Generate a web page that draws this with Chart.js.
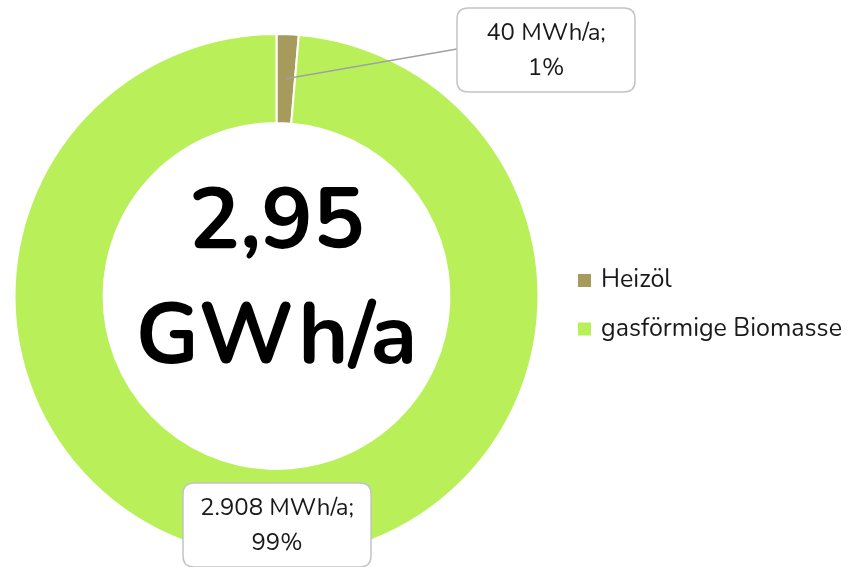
<!DOCTYPE html>
<html>
<head>
<meta charset="utf-8">
<script src="https://cdn.jsdelivr.net/npm/chart.js@4.4.1/dist/chart.umd.min.js"></script>
<style>
	html, body { margin: 0; padding: 0; background: #ffffff; }
	#wrap { position: relative; width: 848px; height: 567px; }
</style>
</head>
<body>
<div id="wrap"><canvas id="energy_doughnut"></canvas></div>
<script>
// data
const categories = ['Heizöl', 'gasförmige Biomasse'];
const valuesMWh = [40, 2908];
const valueLabels = ['40 MWh/a;', '2.908 MWh/a;'];
const percentLabels = ['1%', '99%'];
const centerLines = ['2,95', 'GWh/a'];
const colors = ['#a69a5c', '#b9f05a'];

const fontFamily = "Nunito, Lato, 'Open Sans', sans-serif";

// callout boxes (box centre + size)
const calloutBoxes = [
	{ cx: 546, cy: 50, w: 178, h: 84, line: true },
	{ cx: 277, cy: 525, w: 188, h: 84, line: false }
];

function roundRect(ctx, x, y, w, h, r) {
	ctx.beginPath();
	ctx.moveTo(x + r, y);
	ctx.lineTo(x + w - r, y);
	ctx.quadraticCurveTo(x + w, y, x + w, y + r);
	ctx.lineTo(x + w, y + h - r);
	ctx.quadraticCurveTo(x + w, y + h, x + w - r, y + h);
	ctx.lineTo(x + r, y + h);
	ctx.quadraticCurveTo(x, y + h, x, y + h - r);
	ctx.lineTo(x, y + r);
	ctx.quadraticCurveTo(x, y, x + r, y);
	ctx.closePath();
}

const extrasPlugin = {
	id: 'extras',
	afterDatasetsDraw(chart) {
		const ctx = chart.ctx;
		const meta = chart.getDatasetMeta(0);
		const arc0 = meta.data[0];
		const cx = arc0.x, cy = arc0.y;

		ctx.save();
		// center text
		ctx.fillStyle = '#000000';
		ctx.textAlign = 'center';
		ctx.textBaseline = 'alphabetic';
		ctx.font = 'bold 86px ' + fontFamily;
		ctx.fillText(centerLines[0], cx, cy - 48);
		ctx.fillText(centerLines[1], cx, cy + 67);

		// callouts
		meta.data.forEach((arc, i) => {
			const b = calloutBoxes[i];
			const p = arc.tooltipPosition();
			const top = b.cy - b.h / 2;
			if (b.line) {
				ctx.strokeStyle = '#a0a0a0';
				ctx.lineWidth = 1.4;
				ctx.beginPath();
				ctx.moveTo(p.x, p.y);
				ctx.lineTo(b.cx - b.w / 2, b.cy - 1);
				ctx.stroke();
			}
			roundRect(ctx, b.cx - b.w / 2, top, b.w, b.h, 11);
			ctx.fillStyle = '#ffffff';
			ctx.fill();
			ctx.strokeStyle = '#c4c4c4';
			ctx.lineWidth = 1.5;
			ctx.stroke();
			ctx.fillStyle = '#1a1a1a';
			ctx.font = '24px ' + fontFamily;
			ctx.fillText(valueLabels[i], b.cx, top + 32);
			ctx.fillText(percentLabels[i], b.cx, top + 67);
		});

		// legend
		ctx.textAlign = 'left';
		ctx.font = '25px ' + fontFamily;
		categories.forEach((name, i) => {
			const y = 287 + i * 48.5;
			ctx.fillStyle = colors[i];
			ctx.fillRect(578, y - 13, 13, 13);
			ctx.fillStyle = '#1a1a1a';
			ctx.fillText(name, 601, y);
		});
		ctx.restore();
	}
};

const canvas = document.getElementById('energy_doughnut');
const chart = new Chart(canvas.getContext('2d'), {
	type: 'doughnut',
	data: {
		labels: categories,
		datasets: [{
			data: valuesMWh,
			backgroundColor: colors,
			borderColor: '#ffffff',
			borderWidth: 2
		}]
	},
	options: {
		responsive: true,
		maintainAspectRatio: false,
		animation: false,
		cutout: '66%',
		layout: {
			padding: { top: 33, bottom: 8, left: 13.5, right: 308.5 }
		},
		plugins: {
			legend: { display: false },
			tooltip: { enabled: false }
		}
	},
	plugins: [extrasPlugin]
});
</script>
</body>
</html>
